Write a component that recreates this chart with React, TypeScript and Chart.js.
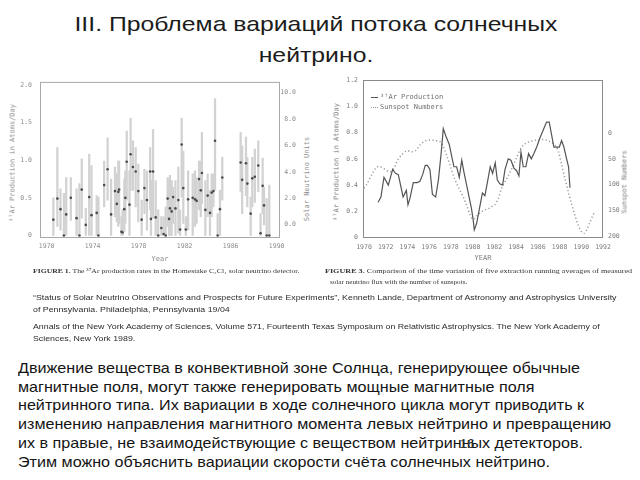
import React, { useEffect, useRef } from "react";
import { Chart, registerables } from "chart.js";

Chart.register(...registerables);

// ---------------- Text content ----------------
const TITLE_LINES = ["III. Проблема вариаций потока солнечных", "нейтрино."];
const BODY_LINES = [
  "Движение вещества в конвективной зоне Солнца, генерирующее обычные",
  "магнитные поля, могут также генерировать мощные магнитные поля",
  "нейтринного типа. Их вариации в ходе солнечного цикла могут приводить к",
  "изменению направления магнитного момента левых нейтрино и превращению",
  "их в правые, не взаимодействующие с веществом нейтринных детекторов.",
  "Этим можно объяснить вариации скорости счёта солнечных нейтрино.",
];
const CITATION_1 = [
  "“Status of Solar Neutrino Observations and Prospects for Future Experiments”, Kenneth Lande, Department of Astronomy and Astrophysics University",
  "of Pennsylvania. Philadelphia, Pennsylvania 19/04",
];
const CITATION_2 = [
  "Annals of the New York Academy of Sciences, Volume 571, Fourteenth Texas Symposium on Relativistic Astrophysics. The New York Academy of",
  "Sciences, New York 1989.",
];
const FIG1_CAPTION_HEAD = "FIGURE 1.";
const FIG1_CAPTION = " The ³⁷Ar production rates in the Homestake C₂Cl₄ solar neutrino detector.";
const FIG3_CAPTION_HEAD = "FIGURE 3.";
const FIG3_CAPTION = [
  " Comparison of the time variation of five extraction running averages of measured",
  "solar neutrino flux with the number of sunspots.",
];
const PAGE_NUMBER = "16";

// ---------------- Figure 1 data ----------------
const FIG1_YEARS = [
  1970.58, 1970.93, 1971.2, 1971.5, 1971.7, 1972.1, 1972.6, 1972.85, 1973.05, 1973.4,
  1973.7, 1973.9, 1974.35, 1974.5, 1975.0, 1975.3, 1975.6, 1975.94, 1976.1, 1976.23,
  1976.3, 1976.5, 1976.6, 1976.75, 1976.84, 1976.96, 1977.2, 1977.3, 1977.5, 1977.74,
  1977.97, 1978.26, 1978.5, 1978.72, 1979.0, 1979.07, 1979.25, 1979.48, 1979.7, 1979.97,
  1980.17, 1980.35, 1980.52, 1980.64, 1980.72, 1980.87, 1981.0, 1981.2, 1981.45, 1981.6,
  1981.74, 1981.88, 1982.1, 1982.3, 1982.7, 1982.9, 1983.04, 1983.25, 1983.4, 1983.5,
  1983.8, 1984.0, 1984.2, 1984.35, 1984.5, 1984.64, 1984.87, 1985.07, 1985.27, 1986.87,
  1987.0, 1987.33, 1987.45, 1987.74, 1987.88, 1988.1, 1988.4, 1988.6, 1988.78, 1988.9,
  1989.13, 1989.36,
];
const FIG1_RATE = [
  0.21, 0.49, 0.35, 0.0, 0.28, 0.5, 0.23, 0.0, 0.61, 0.14,
  0.51, 0.27, 0.3, 0.0, 0.67, 0.88, 0.28, 0.59, 0.42, 0.58,
  0.61, 0.05, 0.04, 0.35, 0.5, 0.98, 0.41, 1.08, 0.91, 0.85,
  0.59, 0.21, 0.63, 0.47, 0.85, 0.22, 0.85, 0.24, 0.0, 0.1,
  0.02, 0.0, 0.49, 0.22, 0.36, 0.32, 0.51, 0.36, 0.47, 0.08,
  1.21, 0.63, 0.08, 0.48, 0.5, 0.48, 0.46, 0.75, 0.6, 0.83,
  0.34, 0.53, 0.3, 0.57, 0.59, 1.26, 0.0, 0.35, 0.77, 0.97,
  0.74, 0.96, 0.69, 0.29, 0.76, 0.78, 0.93, 0.03, 0.66, 0.4,
  0.0, 0.0,
];
const FIG1_HIGH = [
  0.5, 1.17, 0.62, 0.56, 0.77, 0.77, 0.62, 0.69, 1.02, 0.36,
  1.08, 0.93, 0.53, 0.51, 0.99, 1.3, 0.75, 0.91, 0.82, 0.99,
  0.99, 0.25, 0.34, 0.75, 0.86, 1.39, 0.86, 1.56, 1.26, 1.17,
  0.95, 0.47, 0.88, 0.86, 1.17, 0.73, 1.41, 0.73, 0.34, 0.25,
  0.25, 0.38, 0.77, 0.73, 0.8, 0.73, 0.64, 0.73, 0.91, 0.34,
  1.56, 1.12, 0.25, 0.86, 0.82, 0.86, 0.77, 0.99, 0.99, 1.37,
  0.73, 0.82, 0.6, 0.82, 0.82, 1.82, 0.29, 0.6, 1.04, 1.37,
  1.19, 1.31, 1.04, 0.51, 1.04, 1.15, 1.26, 0.29, 1.03, 0.64,
  0.49, 0.67,
];
const FIG1_LOW = [
  0.0, 0.12, 0.07, 0.0, 0.0, 0.2, 0.0, 0.0, 0.23, 0.0,
  0.0, 0.0, 0.0, 0.0, 0.38, 0.47, 0.0, 0.25, 0.18, 0.12,
  0.16, 0.0, 0.0, 0.05, 0.16, 0.47, 0.0, 0.6, 0.6, 0.38,
  0.18, 0.0, 0.29, 0.07, 0.34, 0.0, 0.23, 0.0, 0.0, 0.0,
  0.0, 0.0, 0.12, 0.0, 0.0, 0.0, 0.16, 0.0, 0.03, 0.0,
  0.51, 0.16, 0.0, 0.07, 0.0, 0.12, 0.16, 0.34, 0.25, 0.42,
  0.0, 0.25, 0.0, 0.25, 0.38, 0.6, 0.0, 0.0, 0.47, 0.58,
  0.29, 0.53, 0.38, 0.0, 0.38, 0.44, 0.58, 0.0, 0.29, 0.14,
  0.0, 0.0,
];
const FIG1_X_TICKS = [1970, 1974, 1978, 1982, 1986, 1990];
const FIG1_Y_TICKS = [0, 0.5, 1.0, 1.5, 2.0];
const FIG1_Y_LABELS = ["0", "0.5", "1.0", "1.5", "2.0"];
const FIG1_SNU_TICKS = [0, 2, 4, 6, 8, 10];
const FIG1_SNU_LABELS = ["0.0", "2.0", "4.0", "6.0", "8.0", "10.0"];

// ---------------- Figure 3 data ----------------
const FIG3_AR_YEARS = [
  1971.3, 1971.56, 1971.84, 1972.24, 1972.64, 1972.9, 1973.16, 1973.6, 1973.9, 1974.05,
  1974.23, 1974.54, 1974.9, 1975.15, 1975.4, 1975.64, 1975.83, 1976.07, 1976.3, 1976.6,
  1976.85, 1977.1, 1977.3, 1977.55, 1977.85, 1978.07, 1978.28, 1978.53, 1978.77, 1979.0,
  1979.2, 1979.45, 1979.7, 1979.9, 1980.06, 1980.15, 1980.37, 1980.6, 1980.9, 1981.13,
  1981.38, 1981.62, 1981.84, 1982.08, 1982.27, 1982.5, 1982.76, 1982.98, 1983.28, 1983.53,
  1983.8, 1984.05, 1984.26, 1984.45, 1984.66, 1984.9, 1985.15, 1985.4, 1985.64, 1985.9,
  1986.2, 1986.5, 1986.8, 1987.05, 1987.3, 1987.48, 1987.73, 1987.98, 1988.19, 1988.4,
  1988.65, 1988.83, 1988.96,
];
const FIG3_AR_VALUES = [
  0.27, 0.31, 0.46, 0.4, 0.52, 0.49, 0.48, 0.31, 0.36, 0.25,
  0.3, 0.42, 0.42, 0.43, 0.48, 0.55, 0.55, 0.52, 0.33, 0.31,
  0.44, 0.64, 0.83, 0.77, 0.71, 0.62, 0.54, 0.54, 0.46, 0.59,
  0.5, 0.4, 0.3, 0.22, 0.13, 0.06, 0.11, 0.21, 0.34, 0.32,
  0.43, 0.54, 0.49, 0.57, 0.44, 0.41, 0.4, 0.52, 0.6, 0.59,
  0.53, 0.51, 0.47, 0.65, 0.54, 0.54, 0.64, 0.6, 0.64, 0.69,
  0.76, 0.82, 0.88, 0.88, 0.77, 0.69, 0.69, 0.69, 0.74, 0.69,
  0.6, 0.54, 0.38,
];
const FIG3_SUN_YEARS = [
  1970.0, 1970.3, 1970.7, 1971.16, 1971.5, 1971.9, 1972.4, 1972.76, 1973.07, 1973.47,
  1973.93, 1974.4, 1974.8, 1975.15, 1975.6, 1976.07, 1976.53, 1977.0, 1977.3, 1977.67,
  1977.98, 1978.28, 1978.6, 1978.9, 1979.2, 1979.5, 1979.75, 1980.0, 1980.2, 1980.52,
  1980.83, 1981.13, 1981.44, 1981.75, 1982.05, 1982.36, 1982.67, 1982.98, 1983.28, 1983.53,
  1983.8, 1984.05, 1984.36, 1984.66, 1985.03, 1985.43, 1985.9, 1986.35, 1986.75, 1987.1,
  1987.58, 1987.9, 1988.2, 1988.5, 1988.8, 1989.1, 1989.42, 1989.72, 1990.03, 1990.25,
  1990.5, 1990.8, 1991.17,
];
const FIG3_SUN_VALUES = [
  107, 98, 81, 66, 65, 70, 75, 68, 53, 42,
  34, 36, 33, 23, 15, 13, 14, 16, 26, 47,
  66, 85, 101, 114, 127, 143, 158, 167, 166, 158,
  153, 149, 147, 143, 139, 127, 107, 94, 83, 72,
  60, 47, 33, 23, 18, 15, 13, 12, 13, 16,
  23, 36, 62, 88, 114, 137, 160, 179, 192, 195,
  188, 173, 155,
];
const FIG3_X_TICKS = [1970, 1972, 1974, 1976, 1978, 1980, 1982, 1984, 1986, 1988, 1990, 1992];
const FIG3_Y_TICKS = [0, 0.2, 0.4, 0.6, 0.8, 1.0, 1.2];
const FIG3_Y_LABELS = ["0", "0.2", "0.4", "0.6", "0.8", "1.0", "1.2"];
const FIG3_SUN_TICKS = [0, 50, 100, 150, 200];
const FIG3_SUN_LABELS = ["0", "50", "100", "150", "200"];

// ---------------- Helpers ----------------
const MONO = "'DejaVu Sans Mono', 'Liberation Mono', monospace";
const SANS = "'Liberation Sans', Arial, Helvetica, sans-serif";
const SERIF = "'Liberation Serif', 'Times New Roman', serif";

const framePlugin = {
  id: "frame",
  beforeDatasetsDraw(chart: any, _args: any, opts: any) {
    const { ctx, chartArea } = chart;
    ctx.save();
    ctx.strokeStyle = opts.color || "#999";
    ctx.lineWidth = 1;
    ctx.strokeRect(
      chartArea.left + 0.5,
      chartArea.top + 0.5,
      chartArea.right - chartArea.left - 1,
      chartArea.bottom - chartArea.top - 1
    );
    ctx.restore();
  },
};

function axis(
  position: string,
  min: number,
  max: number,
  values: number[],
  labels: string[],
  size: number,
  padding: number,
  color: string,
  extra: any = {}
) {
  const horizontal = position === "bottom" || position === "top";
  return {
    type: "linear",
    position,
    min,
    max,
    offset: false,
    grid: { display: false, drawTicks: false },
    border: { display: false },
    afterBuildTicks: (scale: any) => {
      scale.ticks = values.map((v) => ({ value: v }));
    },
    afterFit: (scale: any) => {
      if (horizontal) scale.height = size;
      else scale.width = size;
    },
    ticks: {
      autoSkip: false,
      maxRotation: 0,
      minRotation: 0,
      padding,
      color,
      font: { family: MONO, size: 6.5 },
      callback: (_v: any, i: number) => labels[i],
      ...extra,
    },
  };
}

function ChartCanvas({ config, left, top, width, height }: any) {
  const ref = useRef<HTMLCanvasElement | null>(null);
  useEffect(() => {
    if (!ref.current) return;
    const chart = new Chart(ref.current, config);
    return () => chart.destroy();
  }, []);
  return (
    <canvas
      ref={ref}
      width={width}
      height={height}
      style={{ position: "absolute", left, top, width, height, display: "block" }}
    />
  );
}

const fig1Config: any = {
  type: "bar",
  data: {
    datasets: [
      {
        type: "scatter",
        data: FIG1_YEARS.map((x, i) => ({ x, y: FIG1_RATE[i] })),
        pointRadius: 1.3,
        pointBackgroundColor: "#4a4a4a",
        pointBorderWidth: 0,
        order: 0,
      },
      {
        type: "bar",
        data: FIG1_YEARS.map((x, i) => ({ x, y: [FIG1_LOW[i], FIG1_HIGH[i]] })),
        backgroundColor: "#d2d2d2",
        barThickness: 1.6,
        order: 1,
      },
    ],
  },
  options: {
    responsive: false,
    animation: false,
    layout: { padding: { top: 10, left: 0, right: 0, bottom: 0 } },
    plugins: { legend: { display: false }, tooltip: { enabled: false }, frame: { color: "#a8a8a8" } },
    scales: {
      x: axis("bottom", 1969.42, 1990.29, FIG1_X_TICKS, FIG1_X_TICKS.map(String), 22, 4.5, "#8c8c8c"),
      y: axis("left", -0.034, 2.043, FIG1_Y_TICKS, FIG1_Y_LABELS, 40, 8, "#8c8c8c"),
      y2: axis("right", -1.0, 10.8, FIG1_SNU_TICKS, FIG1_SNU_LABELS, 16, 0, "#8c8c8c", { crossAlign: "far" }),
    },
  },
  plugins: [framePlugin],
};

const fig3Config: any = {
  type: "line",
  data: {
    datasets: [
      {
        label: "³⁷Ar Production",
        data: FIG3_AR_YEARS.map((x, i) => ({ x, y: FIG3_AR_VALUES[i] })),
        borderColor: "#555555",
        borderWidth: 1.2,
        pointRadius: 0,
        tension: 0,
        yAxisID: "y",
      },
      {
        label: "Sunspot Numbers",
        data: FIG3_SUN_YEARS.map((x, i) => ({ x, y: FIG3_SUN_VALUES[i] })),
        borderColor: "#9a9a9a",
        borderWidth: 1.5,
        borderDash: [1.2, 2.4],
        pointRadius: 0,
        tension: 0.3,
        yAxisID: "y2",
      },
    ],
  },
  options: {
    responsive: false,
    animation: false,
    layout: { padding: { top: 10, left: 0, right: 0, bottom: 0 } },
    plugins: { legend: { display: false }, tooltip: { enabled: false }, frame: { color: "#8a8a8a" } },
    scales: {
      x: axis("bottom", 1969.91, 1992, FIG3_X_TICKS, FIG3_X_TICKS.map(String), 22, 5, "#7c7c7c"),
      y: axis("left", -0.002, 1.2, FIG3_Y_TICKS, FIG3_Y_LABELS, 33, 5, "#7c7c7c"),
      y2: {
        ...axis("right", -104, 204, FIG3_SUN_TICKS, FIG3_SUN_LABELS, 27, 5, "#7c7c7c"),
        reverse: true,
      },
    },
  },
  plugins: [framePlugin],
};

function Rotated({ x, y, text, size = 7, color = "#888" }: any) {
  return (
    <div
      style={{
        position: "absolute",
        left: x,
        top: y,
        transform: "translate(-50%, -50%) rotate(-90deg)",
        fontFamily: MONO,
        fontSize: size,
        color,
        whiteSpace: "nowrap",
        lineHeight: 1,
      }}
    >
      {text}
    </div>
  );
}

function Centered({ x, y, text, size = 7, color = "#888" }: any) {
  return (
    <div
      style={{
        position: "absolute",
        left: x,
        top: y,
        transform: "translate(-50%, -50%)",
        fontFamily: MONO,
        fontSize: size,
        color,
        whiteSpace: "nowrap",
        lineHeight: 1,
      }}
    >
      {text}
    </div>
  );
}

export default function App() {
  useEffect(() => {
    document.body.style.margin = "0";
  }, []);
  return (
    <div
      style={{
        position: "fixed",
        left: 0,
        top: 0,
        width: 640,
        height: 480,
        background: "#ffffff",
        overflow: "hidden",
        fontFamily: SANS,
      }}
    >
      {TITLE_LINES.map((t, i) => (
        <div
          key={"t" + i}
          style={{
            position: "absolute",
            left: 0,
            width: 632,
            top: 10 + i * 31,
            textAlign: "center",
            fontSize: 21,
            lineHeight: "28px",
            color: "#1c1c1c",
            whiteSpace: "nowrap",
            transform: "scaleX(1.18)",
            transformOrigin: "316px 0",
          }}
        >
          {t}
        </div>
      ))}

      <ChartCanvas config={fig1Config} left={0} top={70} width={296} height={190} />
      <ChartCanvas config={fig3Config} left={330} top={70} width={300} height={190} />

      {/* Figure 1 axis titles */}
      <Rotated x={13} y={163} text="³⁷Ar Production in Atoms/Day" color="#8c8c8c" />
      <Rotated x={307} y={179} text="Solar Neutrino Units" color="#8c8c8c" />
      <Centered x={160} y={259} text="Year" color="#8c8c8c" />

      {/* Figure 3 axis titles and legend */}
      <Rotated x={337} y={162} text="³⁷Ar Production in Atoms/Day" color="#7c7c7c" />
      <Rotated x={625} y={182} text="Sunspot Numbers" color="#7c7c7c" />
      <Centered x={483} y={258} text="YEAR" color="#7c7c7c" />
      <div style={{ position: "absolute", left: 371, top: 92, fontFamily: MONO, fontSize: 7, color: "#707070", lineHeight: "10px" }}>
        <div style={{ display: "flex", alignItems: "center", whiteSpace: "nowrap" }}>
          <span style={{ display: "inline-block", width: 7, borderTop: "1.2px solid #555", marginRight: 2 }} />
          <span>{fig3Config.data.datasets[0].label}</span>
        </div>
        <div style={{ display: "flex", alignItems: "center", whiteSpace: "nowrap" }}>
          <span style={{ display: "inline-block", width: 7, borderTop: "1.5px dotted #999", marginRight: 2 }} />
          <span>{fig3Config.data.datasets[1].label}</span>
        </div>
      </div>

      {/* Captions */}
      <div style={{ position: "absolute", left: 33, top: 266, fontFamily: SERIF, fontSize: 7, lineHeight: "10px", color: "#333", whiteSpace: "nowrap", transform: "scaleX(1.1)", transformOrigin: "0 0" }}>
        <b>{FIG1_CAPTION_HEAD}</b>
        {FIG1_CAPTION}
      </div>
      <div style={{ position: "absolute", left: 325, top: 266, fontFamily: SERIF, fontSize: 7, lineHeight: "10px", color: "#333", whiteSpace: "nowrap", transform: "scaleX(1.16)", transformOrigin: "0 0" }}>
        <b>{FIG3_CAPTION_HEAD}</b>
        {FIG3_CAPTION[0]}
      </div>
      <div style={{ position: "absolute", left: 330, top: 277, fontFamily: SERIF, fontSize: 7, lineHeight: "10px", color: "#333", whiteSpace: "nowrap", transform: "scaleX(1.02)", transformOrigin: "0 0" }}>
        {FIG3_CAPTION[1]}
      </div>

      {/* Citations */}
      {[CITATION_1, CITATION_2].map((block, b) =>
        block.map((line, i) => (
          <div
            key={"c" + b + i}
            style={{
              position: "absolute",
              left: 33,
              top: 292 + b * 29 + i * 12,
              fontSize: 8,
              lineHeight: "12px",
              color: "#2a2a2a",
              whiteSpace: "nowrap",
              transform: "scaleX(1.1)",
              transformOrigin: "0 0",
            }}
          >
            {line}
          </div>
        ))
      )}

      {/* Body text */}
      {BODY_LINES.map((line, i) => (
        <div
          key={"b" + i}
          style={{
            position: "absolute",
            left: 18,
            top: 359 + i * 18.7,
            fontSize: 15,
            lineHeight: "18.7px",
            color: "#141414",
            whiteSpace: "nowrap",
            transform: "scaleX(1.075)",
            transformOrigin: "0 0",
          }}
        >
          {line}
        </div>
      ))}

      <div style={{ position: "absolute", left: 460, top: 436, fontSize: 13, lineHeight: "16px", color: "#333" }}>
        {PAGE_NUMBER}
      </div>
    </div>
  );
}
